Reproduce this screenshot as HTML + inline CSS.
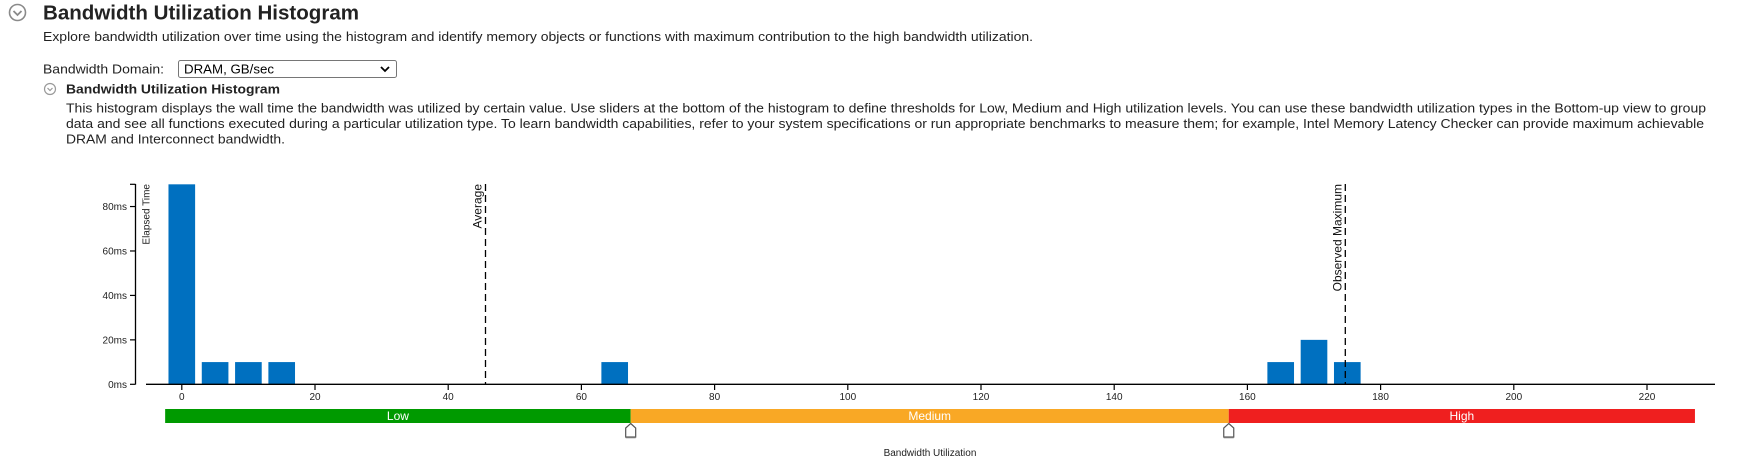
<!DOCTYPE html>
<html><head><meta charset="utf-8">
<style>
html,body{margin:0;padding:0;background:#fff;width:1737px;height:460px;overflow:hidden;}
svg{display:block;font-family:"Liberation Sans",Arial,sans-serif;}
</style></head>
<body>
<svg id="page" width="1737" height="460" viewBox="0 0 1737 460">
  <g>
    <circle cx="17.5" cy="12.5" r="8" fill="#fff" stroke="#8a8a8a" stroke-width="1.6"/>
    <path d="M13.5 11 L17.5 15 L21.5 11" fill="none" stroke="#8a8a8a" stroke-width="1.8"/>
  </g>
  <text x="43" y="19.5" font-size="20" font-weight="bold" fill="#222" textLength="316" lengthAdjust="spacingAndGlyphs">Bandwidth Utilization Histogram</text>
  <text x="43" y="41" font-size="13" fill="#222" textLength="990" lengthAdjust="spacingAndGlyphs">Explore bandwidth utilization over time using the histogram and identify memory objects or functions with maximum contribution to the high bandwidth utilization.</text>
  <text x="43" y="73.5" font-size="13" fill="#222" textLength="121" lengthAdjust="spacingAndGlyphs">Bandwidth Domain:</text>
  <g>
    <rect x="178.5" y="60.5" width="218" height="17" rx="2" fill="#fff" stroke="#767676"/>
    <text x="184" y="73.5" font-size="13" fill="#000" textLength="90" lengthAdjust="spacingAndGlyphs">DRAM, GB/sec</text>
    <path d="M381 67 L385 71 L389 67" fill="none" stroke="#000" stroke-width="1.8"/>
  </g>
  <g>
    <circle cx="50" cy="89" r="5.5" fill="#fff" stroke="#999" stroke-width="1.2"/>
    <path d="M47.5 88 L50 90.5 L52.5 88" fill="none" stroke="#999" stroke-width="1.2"/>
  </g>
  <text x="66" y="93.5" font-size="13" font-weight="bold" fill="#222" textLength="214" lengthAdjust="spacingAndGlyphs">Bandwidth Utilization Histogram</text>
  <g font-size="13" fill="#222">
    <text x="66" y="112.5" textLength="1640" lengthAdjust="spacingAndGlyphs">This histogram displays the wall time the bandwidth was utilized by certain value. Use sliders at the bottom of the histogram to define thresholds for Low, Medium and High utilization levels. You can use these bandwidth utilization types in the Bottom-up view to group</text>
    <text x="66" y="128" textLength="1638" lengthAdjust="spacingAndGlyphs">data and see all functions executed during a particular utilization type. To learn bandwidth capabilities, refer to your system specifications or run appropriate benchmarks to measure them; for example, Intel Memory Latency Checker can provide maximum achievable</text>
    <text x="66" y="143.5" textLength="219" lengthAdjust="spacingAndGlyphs">DRAM and Interconnect bandwidth.</text>
  </g>
  <g id="chart"></g>
</svg>
<script>
const binCenters = [0, 5, 10, 15, 65, 165, 170, 175];
const binValues = [90, 10, 10, 10, 10, 10, 20, 10];
const xTicks = [0, 20, 40, 60, 80, 100, 120, 140, 160, 180, 200, 220];
const yTicks = [0, 20, 40, 60, 80];
const averageValue = [45.6];
const maxValue = [174.7];
const zoneNames = ["Low", "Medium", "High"];
const zoneBounds = [-2.5, 67.4, 157.2, 227.2];
const zoneColors = ["#009a00", "#f9a825", "#ef1f1f"];

const NS = "http://www.w3.org/2000/svg";
const g = document.getElementById("chart");
const X0 = 181.8, XU = 6.66, Y0 = 384.3, YU = 2.222;
const xs = v => X0 + v * XU;
const ys = v => Y0 - v * YU;
function mk(tag, attrs, parent) {
  const e = document.createElementNS(NS, tag);
  for (const k in attrs) e.setAttribute(k, attrs[k]);
  (parent || g).appendChild(e);
  return e;
}
binCenters.forEach((c, i) => {
  const r = mk("rect", {x: xs(c - 2), y: ys(binValues[i]), width: 4 * XU, height: binValues[i] * YU, fill: "#0070c0"});
  
  
});
const ya = mk("line", {x1: 135.5, y1: 184, x2: 135.5, y2: 384.5, stroke: "#000", "stroke-width": 1.3});


yTicks.forEach(t => {
  mk("line", {x1: 130, y1: ys(t), x2: 135.5, y2: ys(t), stroke: "#000", "stroke-width": 1.2});
  const tx = mk("text", {x: 127, y: ys(t) + 3.5, "font-size": 10, "text-anchor": "end", fill: "#222"});
  tx.textContent = t + "ms";
  
  
});
mk("line", {x1: 130, y1: 184.3, x2: 135.5, y2: 184.3, stroke: "#000", "stroke-width": 1.2});
const yt = mk("text", {x: 0, y: 0, "font-size": 10, "text-anchor": "end", fill: "#222", transform: "translate(149.5,184) rotate(-90)"});
yt.textContent = "Elapsed Time";


const xa = mk("line", {x1: 146, y1: 384.3, x2: 1715, y2: 384.3, stroke: "#000", "stroke-width": 1.3});


xTicks.forEach(t => {
  mk("line", {x1: xs(t), y1: 384.3, x2: xs(t), y2: 390, stroke: "#000", "stroke-width": 1.2});
  const tx = mk("text", {x: xs(t), y: 400, "font-size": 10, "text-anchor": "middle", fill: "#222"});
  tx.textContent = t;
  
  
});
[[averageValue[0], "Average", "average-line"], [maxValue[0], "Observed Maximum", "observed-maximum-line"]].forEach(([v, lbl, nm]) => {
  const l = mk("line", {x1: xs(v), y1: 184, x2: xs(v), y2: 384, stroke: "#000", "stroke-width": 1.3, "stroke-dasharray": "7,4"});
  
  
  const t = mk("text", {x: 0, y: 0, "font-size": 12, "text-anchor": "end", fill: "#111", transform: `translate(${xs(v) - 4},184) rotate(-90)`});
  t.textContent = lbl;
  
  
});
zoneNames.forEach((n, i) => {
  const a = xs(zoneBounds[i]), b = xs(zoneBounds[i + 1]);
  const r = mk("rect", {x: a, y: 409, width: b - a, height: 14, fill: zoneColors[i]});
  
  
  const t = mk("text", {x: (a + b) / 2, y: 420, "font-size": 12, "text-anchor": "middle", fill: "#fff"});
  t.textContent = n;
  
  
});
[1, 2].forEach(i => {
  const x = xs(zoneBounds[i]);
  const h = mk("path", {d: `M${x} 423.5 L${x + 5} 428 L${x + 5} 437 L${x - 5} 437 L${x - 5} 428 Z`, fill: "#fff", stroke: "#555", "stroke-width": 1.2});
  
  
  mk("line", {x1: x - 5, y1: 437.5, x2: x + 5, y2: 437.5, stroke: "#777", "stroke-width": 1.5});
});
const xt = mk("text", {x: 930, y: 456, "font-size": 10, "text-anchor": "middle", fill: "#222"});
xt.textContent = "Bandwidth Utilization";


</script>
</body></html>
